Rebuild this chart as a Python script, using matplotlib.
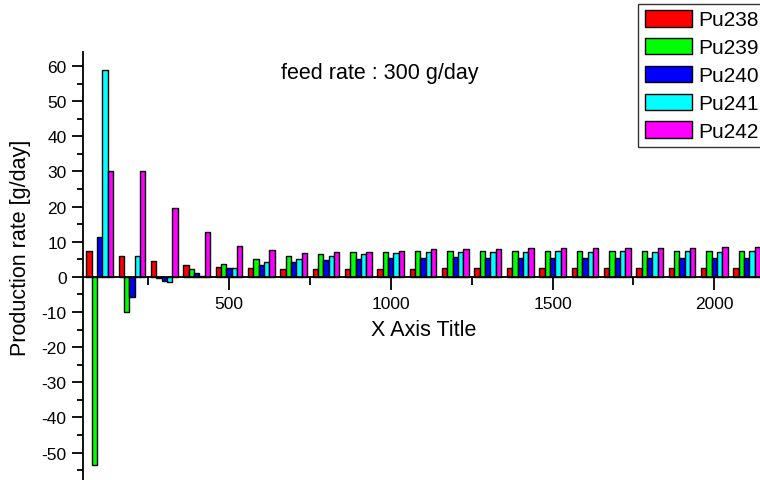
import numpy as np
import matplotlib
matplotlib.use('Agg')
import matplotlib.pyplot as plt
from matplotlib.ticker import MultipleLocator

plt.rcParams['font.family'] = ['Liberation Sans', 'DejaVu Sans']
plt.rcParams['axes.unicode_minus'] = False

# feed rate 300 g/day, production rate per isotope
x = np.arange(100, 2101, 100)
pu238 = [7.3, 5.9, 4.5, 3.5, 2.8, 2.4, 2.2, 2.2, 2.2, 2.2, 2.3, 2.4, 2.4, 2.5, 2.5, 2.5, 2.6, 2.6, 2.6, 2.6, 2.6]
pu239 = [-53.5, -10.1, -0.3, 2.2, 3.7, 5.0, 5.9, 6.6, 7.0, 7.1, 7.4, 7.4, 7.3, 7.3, 7.4, 7.3, 7.3, 7.5, 7.3, 7.3, 7.5]
pu240 = [11.3, -5.7, -1.3, 1.0, 2.5, 3.5, 4.3, 4.8, 5.1, 5.4, 5.5, 5.6, 5.5, 5.5, 5.5, 5.5, 5.5, 5.5, 5.5, 5.5, 5.5]
pu241 = [58.8, 5.9, -1.6, 0.3, 2.5, 4.1, 5.2, 6.0, 6.6, 6.8, 7.1, 7.2, 7.1, 7.1, 7.3, 7.1, 7.3, 7.1, 7.3, 7.1, 7.3]
pu242 = [30.2, 30.0, 19.7, 12.8, 8.9, 7.6, 6.8, 7.0, 7.1, 7.4, 7.8, 7.9, 8.0, 8.1, 8.2, 8.2, 8.3, 8.3, 8.3, 8.4, 8.4]
names = ['Pu238', 'Pu239', 'Pu240', 'Pu241', 'Pu242']
cols = ['#ff0000', '#00ff00', '#0000ff', '#00ffff', '#ff00ff']

W, H = 760, 481
fig = plt.figure(figsize=(W / 100, H / 100), dpi=100)
ax = fig.add_axes([82.7 / W, 0, 1 - 82.7 / W, (H - 53.3) / H])

bw = 16.5
handles = []
for i, (vals, c, n) in enumerate(zip([pu238, pu239, pu240, pu241, pu242], cols, names)):
    b = ax.bar(x + (i - 2) * bw, vals, width=bw, color=c, edgecolor='black', lw=1.0, label=n)
    handles.append(b)

ax.set_xlim(47.8, 2141.3)
ax.set_ylim(-57.8, 63.9)

ax.spines['top'].set_visible(False)
ax.spines['right'].set_visible(False)
ax.spines['bottom'].set_position(('data', 0))
ax.spines['left'].set_linewidth(1.3)
ax.spines['bottom'].set_linewidth(1.3)

ax.xaxis.set_major_locator(MultipleLocator(500))
ax.xaxis.set_minor_locator(MultipleLocator(250))
ax.yaxis.set_major_locator(MultipleLocator(10))
ax.yaxis.set_minor_locator(MultipleLocator(5))
ax.tick_params(which='major', length=8, width=1.3, labelsize=12.5)
ax.tick_params(which='minor', length=4.5, width=1.3)
ax.tick_params(axis='x', which='major', length=9.5, pad=4)
ax.tick_params(axis='x', which='minor', length=5.5)
ax.set_xticks([500, 1000, 1500, 2000])
ax.set_yticks(range(-50, 61, 10))

fig.text(380 / W, 1 - 79 / H, 'feed rate : 300 g/day', fontsize=15.5, ha='center', va='baseline')
fig.text(424 / W, 1 - 331 / H, 'X Axis Title', fontsize=15.5, ha='center', va='center')
fig.text(21 / W, 1 - 248 / H, 'Production rate [g/day]', fontsize=15.5, ha='center', va='center', rotation=90)

leg = fig.legend(handles=handles, loc='upper left', bbox_to_anchor=(638.3 / W, 1 - 4.7 / H),
                 fontsize=15, frameon=True, fancybox=False, shadow=False,
                 handlelength=2.3, handleheight=0.85, handletextpad=0.3,
                 labelspacing=0.4, borderpad=0.3, borderaxespad=0)
leg.get_frame().set_edgecolor('black')
leg.get_frame().set_linewidth(1.0)

fig.savefig('out.png', dpi=100)
